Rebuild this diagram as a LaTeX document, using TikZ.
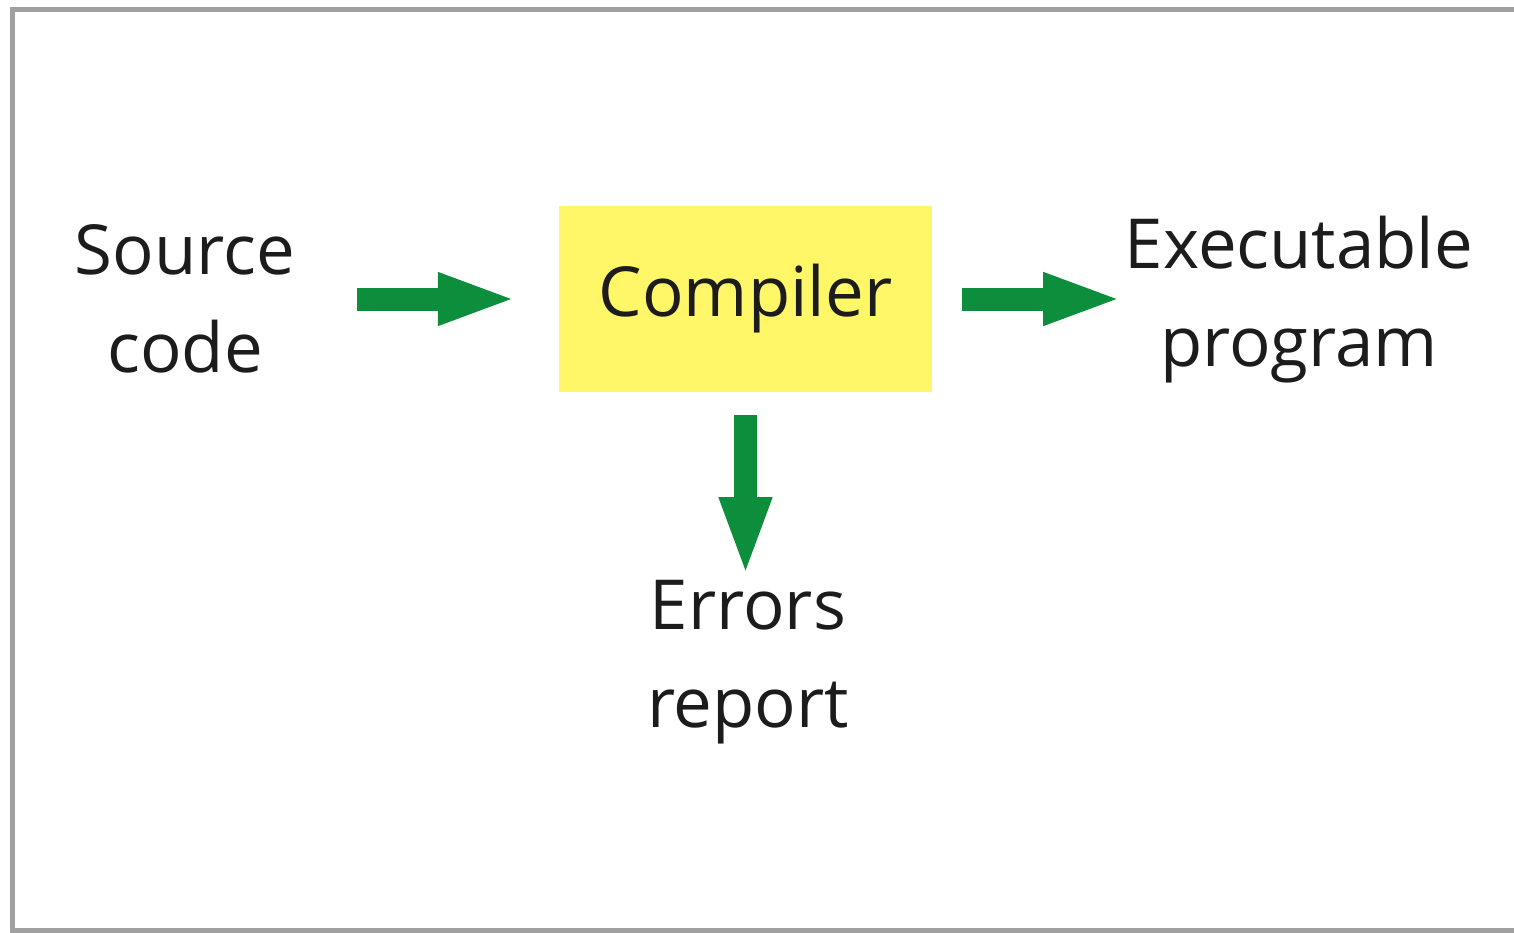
\documentclass[tikz,border=0pt]{standalone}
\usepackage{fontspec}
\setmainfont{Open Sans}
\usetikzlibrary{arrows.meta}
\definecolor{flowgreen}{RGB}{12,142,60}
\definecolor{boxyellow}{RGB}{255,246,104}
\definecolor{framegray}{RGB}{160,160,160}
\definecolor{inkgray}{RGB}{28,28,28}
\tikzset{
  label text/.style={align=center, inner sep=0pt, text=inkgray,
    font=\fontsize{69}{98}\selectfont},
  procbox/.style={fill=boxyellow, draw=none, minimum width=373pt,
    minimum height=186pt, inner sep=0pt, text=inkgray,
    font=\fontsize{69}{98}\selectfont},
  flow/.style={draw=flowgreen, line width=23pt,
    -{Triangle[length=80pt,width=47pt,fill=flowgreen]}},
}
\begin{document}
\begin{tikzpicture}[x=1pt,y=-1pt]
  \useasboundingbox (0,0) rectangle (1514,932);
  % frame, open on the right
  \draw[framegray, line width=5pt] (1520,9) -- (12,9) -- (12,930) -- (1520,930);

  \node[procbox] (comp) at (745.5,299) {Compiler};
  \node[label text] (src) at (185,299) {Source\\code};
  \node[label text] (exe) at (1299,300) {Executable\\program};
  \node[label text] (err) at (748,662) {Errors\\report};

  \draw[flow] ([xshift=-202pt]comp.west) -- ([xshift=-41pt]comp.west);
  \draw[flow] ([xshift=30pt]comp.east) -- ([xshift=191pt]comp.east);
  \draw[flow] ([yshift=-23pt]comp.south) -- ([yshift=-185pt]comp.south);
\end{tikzpicture}
\end{document}
